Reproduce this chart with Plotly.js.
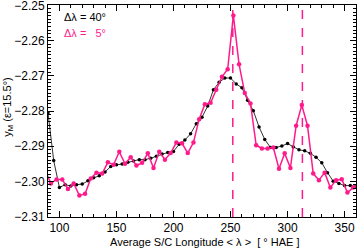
<!DOCTYPE html>
<html>
<head>
<meta charset="utf-8">
<script src="https://cdn.plot.ly/plotly-3.0.1.min.js"></script>
<style>html,body{margin:0;padding:0;background:#fff;}#chart{width:357px;height:248px;}</style>
</head>
<body>
<div id="chart"></div>
<script>
// Δλ = 40° series
const lon40 = [90,95,100,105,110,115,120,125,130,135,140,145,150,155,160,165,170,175,180,185,190,195,200,205,210,215,220,225,230,235,240,245,250,255,260,265,270,275,280,285,290,295,300,305,310,315,320,325,330,335,340,345,350,355,360];
const y40 = [-2.28047,-2.29408,-2.30175,-2.30092,-2.30131,-2.30092,-2.30075,-2.29981,-2.29897,-2.29842,-2.29731,-2.29575,-2.29528,-2.29508,-2.29453,-2.29417,-2.29381,-2.29381,-2.29342,-2.29286,-2.29222,-2.29175,-2.29147,-2.28944,-2.28825,-2.28647,-2.28361,-2.28175,-2.27861,-2.27397,-2.27186,-2.27064,-2.27064,-2.27231,-2.27342,-2.27694,-2.27992,-2.28453,-2.28806,-2.29036,-2.29036,-2.28992,-2.28925,-2.29019,-2.29103,-2.29131,-2.29203,-2.29314,-2.29472,-2.29750,-2.29992,-2.30056,-2.30119,-2.30119,-2.30139];
// Δλ = 5° series
const lon5 = [87.5,92.5,97.5,102.5,107.5,112.5,117.5,122.5,127.5,132.5,137.5,142.5,147.5,152.5,157.5,162.5,167.5,172.5,177.5,182.5,187.5,192.5,197.5,202.5,207.5,212.5,217.5,222.5,227.5,232.5,237.5,242.5,247.5,252.5,257.5,262.5,267.5,272.5,277.5,282.5,287.5,292.5,297.5,302.5,307.5,312.5,317.5,322.5,327.5,332.5,337.5,342.5,347.5,352.5,357.5,362.5];
const y5 = [-2.29683,-2.30056,-2.29944,-2.29944,-2.30214,-2.30056,-2.30397,-2.30353,-2.29917,-2.29750,-2.29778,-2.29453,-2.29528,-2.29158,-2.29500,-2.29314,-2.29547,-2.29472,-2.29203,-2.29619,-2.29158,-2.29381,-2.29194,-2.28897,-2.28917,-2.29194,-2.28897,-2.28231,-2.27806,-2.27769,-2.27397,-2.27028,-2.26814,-2.25286,-2.26675,-2.27492,-2.27786,-2.28972,-2.29064,-2.29064,-2.29036,-2.29639,-2.29203,-2.29619,-2.28417,-2.27833,-2.28417,-2.29778,-2.29964,-2.29750,-2.30175,-2.29964,-2.29936,-2.30314,-2.30175,-2.30083];
// peak longitudes (dashed markers)
const peakLon = [252, 313];
const xTickVals = [100,150,200,250,300,350];
const yTickVals = [-2.31,-2.30,-2.29,-2.28,-2.27,-2.26,-2.25];
const yTickText = ["−2.31","−2.30","−2.29","−2.28","−2.27","−2.26","−2.25"];
const legendLabels = ["Δλ = 40°", "Δλ =\u00a0\u00a0\u00a05°"];
const xTitle = "Average S/C Longitude < λ >\u00a0 [ ° HAE ]";
const yTitle = "y<sub>M</sub> (ε=15.5°)";

const pink = "#ff1a8c";
const fontFam = "Liberation Sans, Arial, Helvetica, sans-serif";

const traces = [
  {x: lon40, y: y40, mode: "lines+markers", line: {color: "#333333", width: 1},
   marker: {color: "#000000", size: 3.5, symbol: "circle"}, hoverinfo: "skip"},
  {x: lon5, y: y5, mode: "lines+markers", line: {color: pink, width: 1.5},
   marker: {color: pink, size: 4.5, symbol: "circle"}, hoverinfo: "skip"}
];

const shapes = peakLon.map(v => ({type: "line", xref: "x", yref: "paper", x0: v, x1: v, y0: 0, y1: 1,
  line: {color: pink, width: 1.5, dash: "dash"}}));

const layout = {
  width: 357, height: 248,
  margin: {l: 48, r: 1, t: 5, b: 31},
  paper_bgcolor: "#fff", plot_bgcolor: "#fff",
  showlegend: false,
  font: {family: fontFam, size: 12, color: "#000"},
  xaxis: {range: [90, 360], tickvals: xTickVals, ticks: "inside", ticklen: 6,
    tickcolor: "#000", showline: true, linecolor: "#000", linewidth: 1, mirror: "allticks",
    showgrid: false, zeroline: false, tickfont: {size: 12, family: fontFam}, ticklabeloverflow: "allow",
    minor: {dtick: 10, tick0: 90, ticks: "inside", ticklen: 3, tickcolor: "#000", showgrid: false}},
  yaxis: {range: [-2.3101, -2.2499], tickvals: yTickVals, ticktext: yTickText,
    ticks: "inside", ticklen: 6, tickcolor: "#000", ticklabeloverflow: "allow",
    showline: true, linecolor: "#000", linewidth: 1, mirror: "allticks",
    showgrid: false, zeroline: false, tickfont: {size: 12, family: fontFam},
    minor: {dtick: 0.001, tick0: -2.31, ticks: "inside", ticklen: 3, tickcolor: "#000", showgrid: false}},
  shapes: shapes,
  annotations: [
    {xref: "paper", yref: "paper", x: 0.045, y: 0.945, xanchor: "left", yanchor: "middle", showarrow: false,
     text: legendLabels[0], font: {size: 11, color: "#000", family: fontFam}},
    {xref: "paper", yref: "paper", x: 0.045, y: 0.87, xanchor: "left", yanchor: "middle", showarrow: false,
     text: legendLabels[1], font: {size: 11, color: pink, family: fontFam}},
    {xref: "paper", yref: "paper", x: 0.51, y: -0.118, xanchor: "center", yanchor: "middle", showarrow: false,
     text: xTitle, font: {size: 11, color: "#000", family: fontFam}},
    {xref: "paper", yref: "paper", x: -0.13, y: 0.52, xanchor: "center", yanchor: "middle", showarrow: false,
     textangle: -90, text: yTitle, font: {size: 11, color: "#000", family: fontFam}}
  ]
};

Plotly.newPlot("chart", traces, layout, {staticPlot: true, displayModeBar: false});
</script>
</body>
</html>
